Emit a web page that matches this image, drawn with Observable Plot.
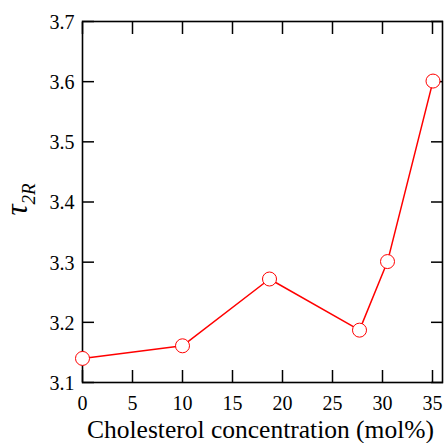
<!DOCTYPE html>
<html><head><meta charset="utf-8">
<script src="https://cdn.jsdelivr.net/npm/d3@7"></script>
<script src="https://cdn.jsdelivr.net/npm/@observablehq/plot@0.6"></script>
<style>body{margin:0;background:#fff} svg{display:block}</style>
</head><body><div id="chart"></div>
<script>
const cholesterol = [0, 10, 18.7, 27.7, 30.5, 35.05];
const tau2R = [3.14, 3.161, 3.272, 3.187, 3.301, 3.601];
const xTicks = [0, 5, 10, 15, 20, 25, 30, 35];
const yTicks = [3.1, 3.2, 3.3, 3.4, 3.5, 3.6, 3.7];
const xLabel = "Cholesterol concentration (mol%)";
const yLabelMain = "τ";
const yLabelSub = "2R";

const data = cholesterol.map((x, i) => ({x, y: tau2R[i]}));
const fmt = d => d.toFixed(1);
const FONT = "Liberation Serif";

const plot = Plot.plot({
  width: 444, height: 443,
  marginLeft: 82, marginRight: 2, marginTop: 21, marginBottom: 61,
  style: {fontFamily: FONT, background: "white", color: "black", fontSize: "20px"},
  x: {domain: [0, 36], label: null},
  y: {domain: [3.1, 3.7], label: null},
  marks: [
    Plot.axisX(xTicks, {anchor: "bottom", tickSize: -12, tickFormat: () => "", label: null, strokeWidth: 1.5}),
    Plot.axisX(xTicks, {anchor: "top", tickSize: -12, tickFormat: () => "", label: null, strokeWidth: 1.5}),
    Plot.axisY(yTicks, {anchor: "left", tickSize: -12, tickFormat: () => "", label: null, strokeWidth: 1.5}),
    Plot.axisY(yTicks, {anchor: "right", tickSize: -12, tickFormat: () => "", label: null, strokeWidth: 1.5}),
    Plot.axisX(xTicks, {anchor: "bottom", tickSize: 0, tickPadding: 13, label: null, fontSize: 20, fontFamily: FONT}),
    Plot.axisY(yTicks, {anchor: "left", tickSize: 0, tickPadding: 8, dy: 1, tickFormat: fmt, label: null, fontSize: 20, fontFamily: FONT}),
    Plot.frame({stroke: "black", strokeWidth: 1.6}),
    Plot.text([xLabel], {frameAnchor: "bottom", textAnchor: "middle", lineAnchor: "middle", dx: -2, dy: 47, fontSize: 25.5, fontFamily: FONT}),
    Plot.text([yLabelMain], {frameAnchor: "left", textAnchor: "middle", lineAnchor: "middle", dx: -65, dy: 8, rotate: -90, fontSize: 31, fontStyle: "italic", fontFamily: FONT}),
    Plot.text([yLabelSub], {frameAnchor: "left", textAnchor: "middle", lineAnchor: "middle", dx: -54, dy: -8, rotate: -90, fontSize: 19, fontStyle: "italic", fontFamily: FONT}),
    Plot.line(data, {x: "x", y: "y", stroke: "red", strokeWidth: 1.5}),
    Plot.dot(data, {x: "x", y: "y", r: 7, stroke: "red", fill: "white", strokeWidth: 1})
  ]
});
document.getElementById("chart").append(plot);
</script>
</body></html>
